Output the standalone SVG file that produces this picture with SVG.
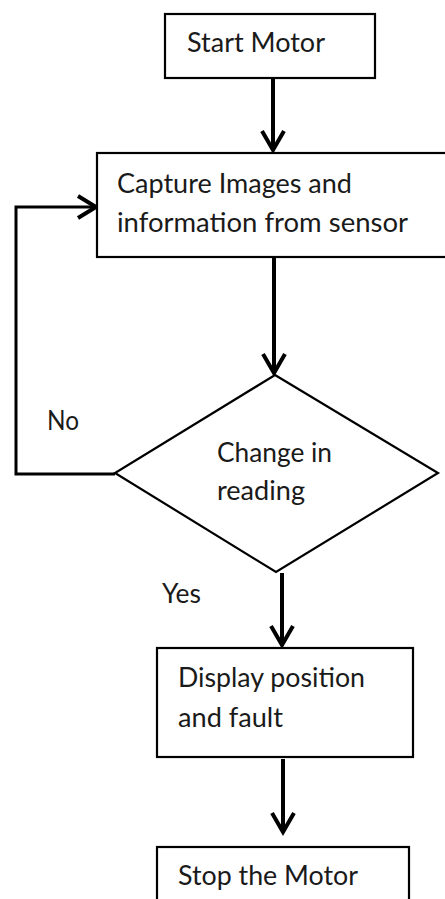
<svg xmlns="http://www.w3.org/2000/svg" width="445" height="899" viewBox="0 0 445 899">
<defs>
<style>
.box{fill:#fff;stroke:#000;stroke-width:2.2}
.t{font-family:Lato,"Open Sans","Liberation Sans",sans-serif;font-size:26px;fill:#1a1a1a}
.ln{fill:none;stroke:#000;stroke-width:4}
.lp{fill:none;stroke:#000;stroke-width:3}
.hd{fill:none;stroke:#000;stroke-width:4;stroke-linejoin:miter}
</style>
</defs>
<rect width="445" height="899" fill="#fff"/>
<g id="connectors">
<line class="ln" x1="273" y1="79" x2="273" y2="150"/>
<polyline class="hd" points="262,131 273,150 284,131"/>
<line class="ln" x1="274" y1="258" x2="274" y2="373"/>
<polyline class="hd" points="263,354 274,373 285,354"/>
<polyline class="lp" points="115,474 16,474 16,207 95,207"/>
<polyline class="hd" points="78,196 96,207 78,218"/>
<line class="ln" x1="282" y1="573" x2="282" y2="645"/>
<polyline class="hd" points="271,626 282,645 293,626"/>
<line class="ln" x1="283" y1="759" x2="283" y2="832"/>
<polyline class="hd" points="272,813 283,832 294,813"/>
</g>
<g id="start">
<rect class="box" x="165" y="14" width="210" height="64"/>
<text class="t" x="187" y="52" textLength="138" lengthAdjust="spacingAndGlyphs">Start Motor</text>
</g>
<g id="capture">
<rect class="box" x="97" y="153" width="352" height="104"/>
<text class="t" x="117" y="193" textLength="235" lengthAdjust="spacingAndGlyphs">Capture Images and</text>
<text class="t" x="117" y="232" textLength="291" lengthAdjust="spacingAndGlyphs">information from sensor</text>
</g>
<g id="decision">
<polygon class="box" points="275,375 438,473 276,572 115,473"/>
<text class="t" x="217" y="462" textLength="115" lengthAdjust="spacingAndGlyphs">Change in</text>
<text class="t" x="217" y="500" textLength="88" lengthAdjust="spacingAndGlyphs">reading</text>
</g>
<g id="labels">
<text class="t" x="47" y="430" textLength="32" lengthAdjust="spacingAndGlyphs">No</text>
<text class="t" x="162" y="603" textLength="39" lengthAdjust="spacingAndGlyphs">Yes</text>
</g>
<g id="display">
<rect class="box" x="157" y="648" width="256" height="109"/>
<text class="t" x="178" y="687" textLength="187" lengthAdjust="spacingAndGlyphs">Display position</text>
<text class="t" x="178" y="727" textLength="105" lengthAdjust="spacingAndGlyphs">and fault</text>
</g>
<g id="stop">
<rect class="box" x="157" y="847" width="252" height="70"/>
<text class="t" x="178" y="885" textLength="180" lengthAdjust="spacingAndGlyphs">Stop the Motor</text>
</g>
</svg>
